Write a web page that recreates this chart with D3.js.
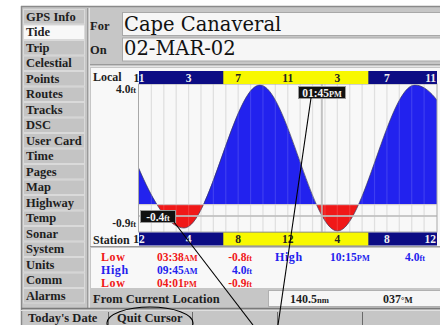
<!DOCTYPE html>
<html><head><meta charset="utf-8">
<script src="https://cdn.jsdelivr.net/npm/d3@7"></script>
<style>
html,body{margin:0;padding:0;background:#fff;}
svg{display:block;}
text{font-family:"Liberation Serif","Times New Roman",serif;font-weight:bold;}
text.big{font-family:"DejaVu Serif",serif;font-weight:normal;}
</style></head>
<body>
<svg id="c" width="440" height="325"></svg>
<script>
// ---- data ----
const menuItems = ["GPS Info","Tide","Trip","Celestial","Points","Routes","Tracks","DSC","User Card","Time","Pages","Map","Highway","Temp","Sonar","System","Units","Comm","Alarms"];
const selectedMenu = "Tide";
const locationName = "Cape Canaveral";
const dateLabel = "02-MAR-02";
// tide extremes, station hours from midnight (incl. neighbours outside the day)
const tideHours = [-2.5, 3.633, 9.75, 16.017, 22.25, 28.6];
const tideHeights = [3.9, -0.8, 4.0, -0.9, 4.0, -0.7];
const tickHours = [0, 4, 8, 12, 16, 20, 24];
const localTicks = ["11","3","7","11","3","7","11"];
const stationTicks = ["12","4","8","12","4","8","12"];
const daylight = [6.8, 18.5];
const yRange = [-0.9, 4.0];
const cursorHour = 14.75;
const cursorValue = -0.4;
const cursorTime = ["01:45", "PM"];
const tableTypes = ["Low","High","Low","High"];
const tableTimes = ["03:38","09:45","04:01","10:15"];
const tableAmPm = ["AM","AM","PM","PM"];
const tableValues = ["-0.8","4.0","-0.9","4.0"];
const distance = ["140.5","nm"];
const bearing = ["037","°M"];
const softKeys = ["Today's Date","Quit Cursor","",""];

// ---- drawing ----
const svg = d3.select("#c");
const GRAY = "#c6c6c6";
const RED = "#f01818", BLUE = "#2222ee", NAVY = "#0c0c84", YEL = "#f8f800";
const INK = "#1e1e1e";

// device frame
svg.append("rect").attr("x",21).attr("y",6).attr("width",419).attr("height",319).attr("fill",GRAY);
svg.append("line").attr("x1",21).attr("x2",440).attr("y1",6.5).attr("y2",6.5).attr("stroke","#8a8a8a").attr("stroke-width",1.5);
svg.append("line").attr("x1",21.5).attr("x2",21.5).attr("y1",6).attr("y2",325).attr("stroke","#8a8a8a").attr("stroke-width",1.5);

// menu
const menu = svg.append("g");
menuItems.forEach((m,i)=>{
  const y0 = 9 + 15.5*i;
  menu.append("rect").attr("x",23.5).attr("y",y0+0.5).attr("width",61).attr("height",14.5)
    .attr("fill", m===selectedMenu ? "#f8f8f8" : "#c4c4c4").attr("stroke","#dadada").attr("stroke-width",1);
  menu.append("text").attr("x",26).attr("y",y0+11.5).attr("font-size",12.5)
    .attr("fill",INK).text(m);
});
svg.append("line").attr("x1",87.5).attr("x2",87.5).attr("y1",8).attr("y2",308).attr("stroke","#9a9a9a");
svg.append("line").attr("x1",89.5).attr("x2",89.5).attr("y1",8).attr("y2",308).attr("stroke","#e4e4e4");

// For / On rows
svg.append("text").attr("x",90).attr("y",30).attr("font-size",12.5).attr("fill",INK).text("For");
svg.append("text").attr("x",90).attr("y",54).attr("font-size",12.5).attr("fill",INK).text("On");
[[122,12],[122,37.5]].forEach(([x,y])=>{
  svg.append("rect").attr("x",x+0.5).attr("y",y+0.5).attr("width",318).attr("height",23).attr("fill","#f6f6f6").attr("stroke","#a8a8a8");
});
svg.append("text").attr("class","big").attr("x",124).attr("y",31).attr("font-size",19.5).attr("fill","#111").text(locationName);
svg.append("text").attr("class","big").attr("x",124).attr("y",55).attr("font-size",19.5).attr("fill","#111").text(dateLabel);
svg.append("line").attr("x1",90).attr("x2",440).attr("y1",64.5).attr("y2",64.5).attr("stroke","#9a9a9a");
svg.append("line").attr("x1",90).attr("x2",440).attr("y1",66.5).attr("y2",66.5).attr("stroke","#e4e4e4");

// chart panel
svg.append("rect").attr("x",91).attr("y",68).attr("width",349).attr("height",178).attr("fill","#f8f8f8");
const x = d3.scaleLinear().domain([0,24]).range([139,436.5]);
const y = d3.scaleLinear().domain(yRange).range([231,85]);
const plotL = 139, plotR = 437, plotT = 84, plotB = 232;
const split = (plotL-90)/350;

svg.append("defs").html(`
 <clipPath id="plot"><rect x="${plotL}" y="${plotT}" width="${plotR-plotL}" height="${plotB-plotT}"/></clipPath>
 <clipPath id="pos"><rect x="${plotL}" y="${plotT}" width="${plotR-plotL}" height="${y(0)-plotT}"/></clipPath>
 <clipPath id="neg"><rect x="${plotL}" y="${y(0)}" width="${plotR-plotL}" height="${plotB-y(0)}"/></clipPath>
 <linearGradient id="edge" gradientUnits="userSpaceOnUse" x1="90" y1="0" x2="440" y2="0">
   <stop offset="${split}" stop-color="${INK}"/><stop offset="${split}" stop-color="#f0f0f0"/>
 </linearGradient>
`);

// hourly grid
const grid = svg.append("g").attr("clip-path","url(#plot)");
grid.selectAll("line").data(d3.range(1,24)).join("line")
  .attr("x1",d=>x(d)).attr("x2",d=>x(d)).attr("y1",plotT).attr("y2",plotB)
  .attr("stroke","#dcdcdc").attr("stroke-width",1.2);

// tide fill
const tide = tideHours.map((h,i)=>({h, v:tideHeights[i]}));
const area = d3.area().x(d=>x(d.h)).y0(y(0)).y1(d=>y(d.v)).curve(d3.curveMonotoneX);
const line = d3.line().x(d=>x(d.h)).y(d=>y(d.v)).curve(d3.curveMonotoneX);
const g = svg.append("g").attr("clip-path","url(#plot)");
g.append("g").attr("clip-path","url(#pos)").append("path").datum(tide).attr("d",area).attr("fill",BLUE);
g.append("g").attr("clip-path","url(#neg)").append("path").datum(tide).attr("d",area).attr("fill",RED);
g.append("path").datum(tide).attr("d",line).attr("fill","none").attr("stroke","#3a3a5a").attr("stroke-width",0.7);
g.append("g").selectAll("line").data(d3.range(1,24)).join("line")
  .attr("x1",d=>x(d)).attr("x2",d=>x(d)).attr("y1",plotT).attr("y2",plotB)
  .attr("stroke","#ffffff").attr("stroke-opacity",0.13).attr("stroke-width",1.2);
g.append("line").attr("x1",plotL).attr("x2",plotR).attr("y1",y(0)+0.5).attr("y2",y(0)+0.5).attr("stroke","#d0d0d0").attr("stroke-width",1);
g.append("line").attr("x1",plotL).attr("x2",plotR).attr("y1",y(cursorValue)).attr("y2",y(cursorValue)).attr("stroke","#c0c0c0").attr("stroke-opacity",0.85).attr("stroke-width",2);
g.append("line").attr("x1",x(cursorHour)).attr("x2",x(cursorHour)).attr("y1",plotT).attr("y2",plotB).attr("stroke","#b8b8b8").attr("stroke-opacity",0.85).attr("stroke-width",2);
svg.append("rect").attr("x",plotL-0.5).attr("y",plotT).attr("width",plotR-plotL+0.5).attr("height",plotB-plotT).attr("fill","none").attr("stroke","#a8a8a8").attr("stroke-width",1);

// time bands
function band(y0, labels){
  svg.append("rect").attr("x",plotL).attr("y",y0).attr("width",plotR-plotL).attr("height",13).attr("fill",NAVY);
  svg.append("rect").attr("x",x(daylight[0])).attr("y",y0).attr("width",x(daylight[1])-x(daylight[0])).attr("height",13).attr("fill",YEL);
  labels.forEach((t,i)=>{
    const h = tickHours[i];
    const day = h>daylight[0] && h<daylight[1];
    const last = i===labels.length-1;
    const tx = last ? plotR-1 : x(h);
    const anchor = last ? "end" : "middle";
    svg.append("text").attr("x",tx).attr("y",y0+10.5).attr("text-anchor",anchor).attr("font-size",11.5)
      .attr("fill", i===0 ? "url(#edge)" : (day ? "#222" : "#f0f0f0")).text(t);
  });
}
band(71, localTicks);
band(232.5, stationTicks);
svg.append("text").attr("x",93).attr("y",81).attr("font-size",12).attr("fill",INK).text("Local");
svg.append("text").attr("x",93).attr("y",243.5).attr("font-size",12).attr("fill",INK).text("Station");

// text with a small unit suffix; align: "start" | "middle" | "end" (done by measuring)
function valueText(px, py, num, unit, size, fill, align){
  const t = svg.append("text").attr("x",px).attr("y",py).attr("font-size",size).attr("fill",fill);
  t.append("tspan").text(num);
  t.append("tspan").attr("font-size",size*0.72).text(unit);
  const w = t.node().getComputedTextLength();
  if(align==="end") t.attr("x",px-w);
  else if(align==="middle") t.attr("x",px-w/2);
  return t;
}
valueText(136, 93, yRange[1].toFixed(1), "ft", 11.5, INK, "end");
valueText(136, 227, yRange[0].toFixed(1), "ft", 11.5, INK, "end");

// cursor labels
svg.append("rect").attr("x",298.5).attr("y",86.5).attr("width",47).attr("height",12).attr("fill","#111").attr("stroke","#9a9a9a");
valueText(322, 96.5, cursorTime[0], cursorTime[1], 11.5, "#f4f4f4", "middle");
svg.append("rect").attr("x",140.5).attr("y",210.5).attr("width",35).attr("height",12).attr("fill","#111").attr("stroke","#9a9a9a");
valueText(158, 220.5, cursorValue.toFixed(1), "ft", 11.5, "#f4f4f4", "middle");

// table
svg.append("line").attr("x1",90).attr("x2",440).attr("y1",246.5).attr("y2",246.5).attr("stroke","#9a9a9a");
svg.append("rect").attr("x",91).attr("y",248).attr("width",349).attr("height",40).attr("fill","#f8f8f8");
const cols = [{lab:101,time:157,val:252},{lab:275,time:330,val:425}];
tableTypes.forEach((t,i)=>{
  const c = cols[Math.floor(i/3)], r = i%3;
  const yy = 260.5 + r*13.3;
  const col = t==="Low" ? RED : BLUE;
  svg.append("text").attr("x",c.lab).attr("y",yy).attr("font-size",12).attr("letter-spacing",0.6).attr("fill",col).text(t);
  valueText(c.time, yy, tableTimes[i], tableAmPm[i], 11.5, col, "start");
  valueText(c.val, yy, tableValues[i], "ft", 11.5, col, "end");
});

// from current location
svg.append("text").attr("x",93).attr("y",302.5).attr("font-size",12.5).attr("fill",INK).text("From Current Location");
svg.append("rect").attr("x",268.5).attr("y",290.5).attr("width",172).attr("height",16).attr("fill","#f6f6f6").attr("stroke","#b0b0b0");
valueText(290, 302.5, distance[0], distance[1], 12, INK, "start");
valueText(383, 302.5, bearing[0], bearing[1], 12, INK, "start");

// soft keys
svg.append("line").attr("x1",21).attr("x2",440).attr("y1",308.5).attr("y2",308.5).attr("stroke","#7a7a7a").attr("stroke-width",1.5);
svg.append("line").attr("x1",21).attr("x2",440).attr("y1",310.5).attr("y2",310.5).attr("stroke","#e0e0e0");
const keyX = [28,117,0,0], sepX = [108,192,277,362];
softKeys.forEach((k,i)=>{
  if(k) svg.append("text").attr("x",keyX[i]).attr("y",322).attr("font-size",12.5).attr("fill",INK).text(k);
  svg.append("line").attr("x1",sepX[i]+0.5).attr("x2",sepX[i]+0.5).attr("y1",312).attr("y2",325).attr("stroke","#6a6a6a");
});

// annotations
svg.append("line").attr("x1",311).attr("y1",98).attr("x2",278).attr("y2",325).attr("stroke","#000").attr("stroke-width",1.1);
svg.append("line").attr("x1",174).attr("y1",222).attr("x2",253).attr("y2",325).attr("stroke","#000").attr("stroke-width",1.1);
svg.append("ellipse").attr("cx",150).attr("cy",323).attr("rx",43).attr("ry",16).attr("fill","none").attr("stroke","#000").attr("stroke-width",1.1);
</script>
</body></html>
